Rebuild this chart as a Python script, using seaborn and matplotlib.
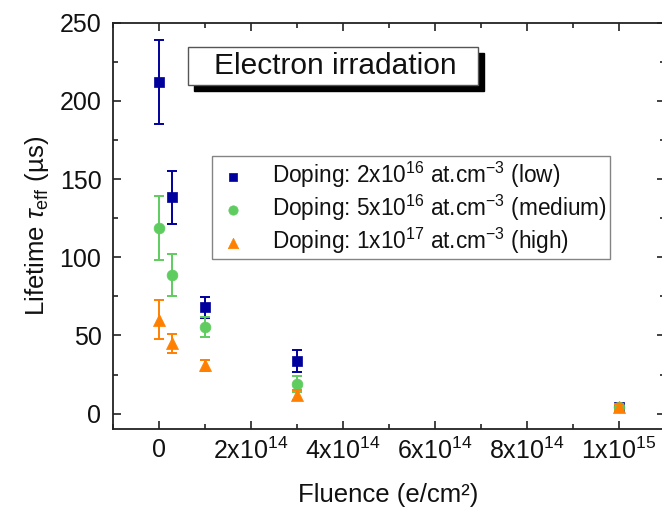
import numpy as np
import pandas as pd
import matplotlib
matplotlib.use("Agg")
import matplotlib.pyplot as plt
from matplotlib.patches import Rectangle
from matplotlib.ticker import MultipleLocator
import seaborn as sns

# ---- data ----
fluence = [0.0, 0.3e14, 1e14, 3e14, 1e15]
series = ["low", "medium", "high"]
low = [212, 138.5, 68, 33.5, 4.5]
low_err = [27, 17, 6.5, 7, 1.5]
medium = [119, 88.5, 55.5, 19, 4.5]
medium_err = [20.5, 13.5, 6.5, 5, 1.5]
high = [60, 45, 31, 12, 4]
high_err = [12.5, 6, 3.5, 3, 2]
legend_labels = [
    r"Doping: 2x10$^{16}$ at.cm$^{-3}$ (low)",
    r"Doping: 5x10$^{16}$ at.cm$^{-3}$ (medium)",
    r"Doping: 1x10$^{17}$ at.cm$^{-3}$ (high)",
]
xticks = [0, 2e14, 4e14, 6e14, 8e14, 1e15]
xtick_labels = ["0", r"2x10$^{14}$", r"4x10$^{14}$", r"6x10$^{14}$", r"8x10$^{14}$", r"1x10$^{15}$"]
yticks = [0, 50, 100, 150, 200, 250]

colors = {"low": "#00009C", "medium": "#5FCC5F", "high": "#FF8000"}
markers = {"low": "s", "medium": "o", "high": "^"}
msizes = {"low": 45, "medium": 60, "high": 75}

sns.set_theme(style="ticks")
plt.rcParams["font.family"] = ["Liberation Sans", "DejaVu Sans"]
plt.rcParams["mathtext.fontset"] = "custom"
plt.rcParams["mathtext.rm"] = "Liberation Sans"
plt.rcParams["mathtext.it"] = "Liberation Sans:italic"
plt.rcParams["mathtext.default"] = "regular"

df = pd.DataFrame({
    "fluence": fluence * 3,
    "lifetime": low + medium + high,
    "err": low_err + medium_err + high_err,
    "doping": [s for s in series for _ in fluence],
})

fig = plt.figure(figsize=(6.62, 5.2), dpi=100)
ax = fig.add_axes([0.170, 0.1744, 0.834, 0.7818])

handles = []
for i, s in enumerate(series):
    sub = df[df["doping"] == s]
    ax.errorbar(sub["fluence"], sub["lifetime"], yerr=sub["err"], fmt="none",
                ecolor=colors[s], elinewidth=1.4, capsize=3.8, capthick=1.4,
                zorder=2 + 2 * i)
    sns.scatterplot(data=sub, x="fluence", y="lifetime", ax=ax,
                    color=colors[s], marker=markers[s], s=msizes[s],
                    edgecolor=colors[s], linewidth=0.5, zorder=3 + 2 * i,
                    legend=False)
    handles.append(ax.scatter([], [], color=colors[s], marker=markers[s],
                              s=msizes[s] * 0.75, edgecolor=colors[s], linewidth=0.5))

ax.set_xlim(-1e14, 1.1e15)
ax.set_ylim(-10, 250)
ax.set_xticks(xticks)
ax.set_xticklabels(xtick_labels)
ax.set_yticks(yticks)
ax.xaxis.set_minor_locator(MultipleLocator(1e14))
ax.yaxis.set_minor_locator(MultipleLocator(25))
ax.tick_params(which="both", direction="in", top=True, right=True,
               width=1.2, color="#222222", labelsize=18, labelcolor="#111111")
ax.tick_params(which="major", length=6)
ax.tick_params(which="minor", length=3.5)
ax.tick_params(axis="y", pad=8)
ax.tick_params(axis="x", pad=6)
for sp in ax.spines.values():
    sp.set_linewidth(1.3)
    sp.set_color("#222222")

ax.set_xlabel("Fluence (e/cm²)", fontsize=18.5, labelpad=14, color="#111111")
ax.set_ylabel(r"Lifetime $\mathit{\tau}_{eff}$ (µs)", fontsize=18.5, labelpad=6, color="#111111")

# titled box with shadow
bx0, by0, bw, bh = 0.1366, 0.847, 0.526, 0.093
ax.add_patch(Rectangle((bx0 + 0.011, by0 - 0.015), bw, bh, transform=ax.transAxes,
                       facecolor="black", edgecolor="black", zorder=8))
ax.add_patch(Rectangle((bx0, by0), bw, bh, transform=ax.transAxes,
                       facecolor="white", edgecolor="#555555", linewidth=1.0, zorder=9))
ax.text(bx0 + bw / 2 + 0.003, by0 + bh / 2, "Electron irradation", transform=ax.transAxes,
        ha="center", va="center", fontsize=21.5, color="#111111", zorder=10)

leg = ax.legend(handles, legend_labels, loc="upper left", bbox_to_anchor=(0.1796, 0.6716),
                borderaxespad=0, fontsize=16.3, frameon=True, fancybox=False,
                handletextpad=0.9, labelspacing=0.12, borderpad=0.15, handlelength=1.6)
leg.get_frame().set_edgecolor("#666666")
leg.get_frame().set_linewidth(1.0)
for t in leg.get_texts():
    t.set_color("#111111")

fig.savefig("out.png", dpi=100)
